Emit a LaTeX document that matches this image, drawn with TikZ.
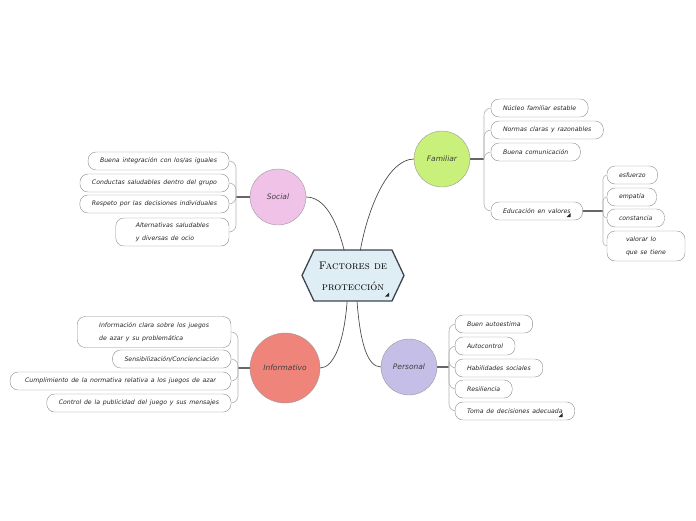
\documentclass[tikz,border=0pt]{standalone}
\usepackage{fontspec}
\newfontfamily\handfont{DejaVu Sans}[WordSpace=1.4]
\definecolor{hexfill}{HTML}{DFEDF5}
\definecolor{hexline}{HTML}{3C4650}
\definecolor{famcol}{HTML}{C9F07B}
\definecolor{soccol}{HTML}{F0C2E8}
\definecolor{infcol}{HTML}{EE847A}
\definecolor{percol}{HTML}{C5BEE6}
\begin{document}
\begin{tikzpicture}[x=1pt,y=-1pt,
	topic/.style={draw=gray!80,circle,minimum size=56pt,inner sep=0pt,outer sep=0pt,font=\handfont\itshape\fontsize{7.5}{9}\selectfont,text=black!75},
	item/.style={draw=gray!90,fill=white,rounded corners=8pt,minimum height=18pt,inner xsep=12pt,inner ysep=2pt,outer sep=0pt,font=\handfont\itshape\fontsize{6.2}{13}\selectfont,text=black!85},
	link/.style={draw=black!70,line width=0.7pt},
	stub/.style={draw=black!60,line width=1.2pt},
	brace/.style={draw=gray!60,line width=0.6pt,rounded corners=7pt},
	marker/.style={fill=black!85}]
	\useasboundingbox (0,0) rectangle (696,520);

	% central idea
	\filldraw[fill=hexfill,draw=hexline,line width=1.3pt] (314,250) -- (392,250) -- (404,275.5) -- (392,301) -- (314,301) -- (302,275.5) -- cycle;
	\draw (353,276) node (fp)[minimum width=78pt,minimum height=51pt,inner sep=0pt,outer sep=0pt,align=center,font=\scshape\fontsize{11}{21}\selectfont]{Factores de\\protección};
	\fill[marker] (fp.south east) ++(-3,-9) -- ++(0,4) -- ++(-4,0) -- cycle;

	% topics
	\draw (442,159) node (fam)[topic,fill=famcol]{Familiar};
	\draw (278,197) node (soc)[topic,fill=soccol]{Social};
	\draw (285,368) node (inf)[topic,fill=infcol,minimum size=70pt]{Informativo};
	\draw (409,367) node (per)[topic,fill=percol]{Personal};

	\draw[link] (soc.east) .. controls +(18,0) and +(-8,-32) .. (fp.109);
	\draw[link] (fp.74) .. controls +(8,-45) and +(-25,0) .. (fam.west);
	\draw[link] (fp.-103) .. controls +(-3,40) and +(14,0) .. (inf.east);
	\draw[link] (fp.-81) .. controls +(3,40) and +(-14,0) .. (per.west);

	% Familiar
	\draw (491,108) node (fam1)[item,anchor=west]{Núcleo familiar estable};
	\draw (491,130) node (fam2)[item,anchor=west]{Normas claras y razonables};
	\draw (491,152) node (fam3)[item,anchor=west]{Buena comunicación};
	\draw (491,211) node (fam4)[item,anchor=west]{Educación en valores};
	\fill[marker] (fam4.east) ++(-12,2) -- ++(0,4) -- ++(-4,0) -- cycle;
	\coordinate (jf) at (484,159);
	\draw[stub] (fam.east) -- (jf);
	\draw[brace] (jf) |- (fam1.west);
	\draw[brace] (jf) |- (fam2.west);
	\draw[brace] (jf) |- (fam3.west);
	\draw[brace] (jf) |- (fam4.west);

	% Educación en valores
	\draw (607,175) node (val1)[item,anchor=west]{esfuerzo};
	\draw (607,197) node (val2)[item,anchor=west]{empatía};
	\draw (607,218) node (val3)[item,anchor=west]{constancia};
	\draw (607,246) node (val4)[item,anchor=west,align=left,minimum height=30pt,inner xsep=19pt]{valorar lo\\que se tiene};
	\coordinate (jv) at (603,211);
	\draw[stub] (fam4.east) -- (jv);
	\draw[brace,rounded corners=4pt] (jv) |- (val1.west);
	\draw[brace,rounded corners=4pt] (jv) |- (val2.west);
	\draw[brace,rounded corners=4pt] (jv) |- (val3.west);
	\draw[brace,rounded corners=4pt] (jv) |- (val4.west);

	% Social
	\draw (229,161) node (soc1)[item,anchor=east]{Buena integración con los/as iguales};
	\draw (229,183) node (soc2)[item,anchor=east]{Conductas saludables dentro del grupo};
	\draw (229,204) node (soc3)[item,anchor=east]{Respeto por las decisiones individuales};
	\draw (229,232) node (soc4)[item,anchor=east,align=left,minimum height=28pt,inner xsep=20pt]{Alternativas saludables\\y diversas de ocio};
	\coordinate (js) at (236,197);
	\draw[stub] (soc.west) -- (js);
	\draw[brace] (js) |- (soc1.east);
	\draw[brace] (js) |- (soc2.east);
	\draw[brace] (js) |- (soc3.east);
	\draw[brace] (js) |- (soc4.east);

	% Informativo
	\draw (231,332) node (inf1)[item,anchor=east,align=left,minimum height=31pt,inner xsep=22pt]{Información clara sobre los juegos\\de azar y su problemática};
	\draw (231,359) node (inf2)[item,anchor=east]{Sensibilización/Concienciación};
	\draw (231,381) node (inf3)[item,anchor=east,inner xsep=15pt]{Cumplimiento de la normativa relativa a los juegos de azar};
	\draw (231,403) node (inf4)[item,anchor=east]{Control de la publicidad del juego y sus mensajes};
	\coordinate (ji) at (238,368);
	\draw[stub] (inf.west) -- (ji);
	\draw[brace] (ji) |- (inf1.east);
	\draw[brace] (ji) |- (inf2.east);
	\draw[brace] (ji) |- (inf3.east);
	\draw[brace] (ji) |- (inf4.east);

	% Personal
	\draw (455,324) node (per1)[item,anchor=west]{Buen autoestima};
	\draw (455,346) node (per2)[item,anchor=west]{Autocontrol};
	\draw (455,368) node (per3)[item,anchor=west]{Habilidades sociales};
	\draw (455,389) node (per4)[item,anchor=west]{Resiliencia};
	\draw (455,411) node (per5)[item,anchor=west]{Toma de decisiones adecuada};
	\fill[marker] (per5.east) ++(-12,2) -- ++(0,4) -- ++(-4,0) -- cycle;
	\coordinate (jp) at (449,367);
	\draw[stub] (per.east) -- (jp);
	\draw[brace] (jp) |- (per1.west);
	\draw[brace] (jp) |- (per2.west);
	\draw[brace] (jp) |- (per3.west);
	\draw[brace] (jp) |- (per4.west);
	\draw[brace] (jp) |- (per5.west);
\end{tikzpicture}
\end{document}
